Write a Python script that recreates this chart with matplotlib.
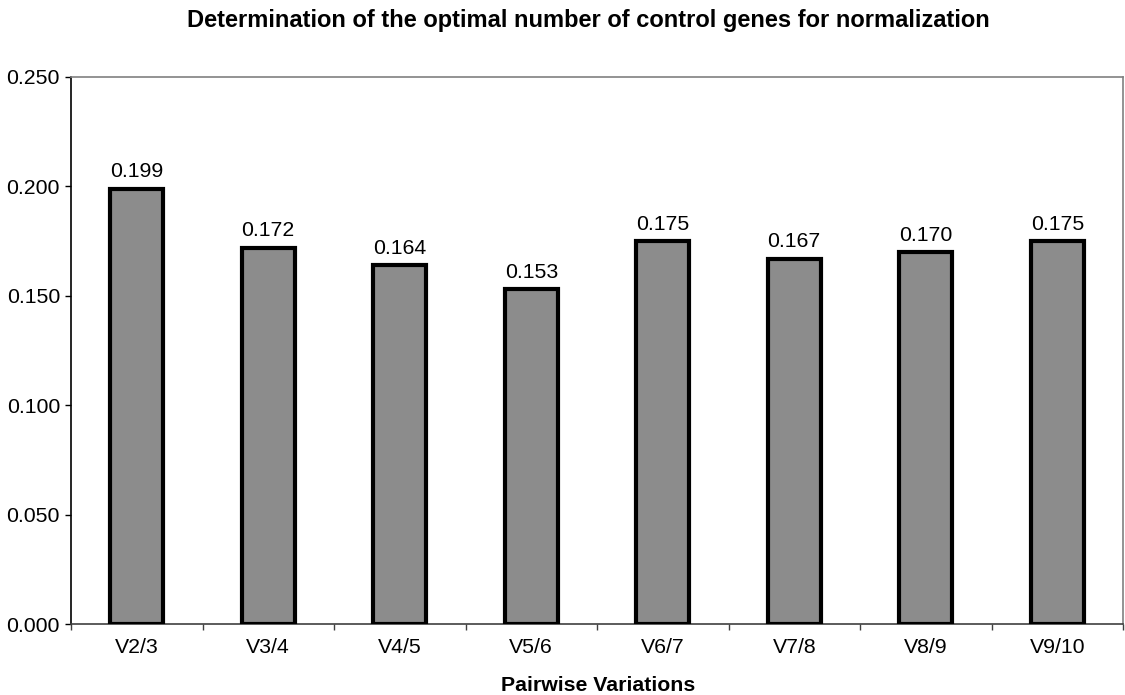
import matplotlib
matplotlib.use("Agg")
import matplotlib.pyplot as plt
import numpy as np

plt.rcParams['font.family'] = ['Liberation Sans', 'DejaVu Sans']

categories = ["V2/3", "V3/4", "V4/5", "V5/6", "V6/7", "V7/8", "V8/9", "V9/10"]
values = [0.199, 0.172, 0.164, 0.153, 0.175, 0.167, 0.170, 0.175]
yticks = [0.000, 0.050, 0.100, 0.150, 0.200, 0.250]
title = "Determination of the optimal number of control genes for normalization"
xlabel = "Pairwise Variations"

fig = plt.figure(figsize=(11.25, 6.95), dpi=100)
ax = fig.add_axes([71/1125, 71/695, (1123-71)/1125, (624-77)/695])

x = np.arange(len(categories))
ax.bar(x, values, width=0.40, color='#8c8c8c', edgecolor='black', linewidth=3, zorder=3)

for xi, v in zip(x, values):
    ax.annotate(f"{v:.3f}", (xi, v), xytext=(0, 8.3), textcoords='offset points',
                ha='center', va='baseline', fontsize=15.3, color='black')

ax.set_xlim(-0.5, len(categories) - 0.5)
ax.set_ylim(0, 0.25)
ax.set_yticks(yticks)
ax.set_yticklabels([f"{t:.3f}" for t in yticks], fontsize=15.3)
ax.set_xticks(x)
ax.set_xticklabels(categories, fontsize=15.3)
ax.set_xticks(np.arange(-0.5, len(categories)), minor=True)
ax.tick_params(axis='x', which='major', length=0, pad=10)
ax.tick_params(axis='x', which='minor', length=4, width=1, color='#404040', direction='out')
ax.tick_params(axis='y', which='major', length=4, width=1, color='black', direction='out', pad=4)

ax.spines['left'].set_color('black')
ax.spines['left'].set_linewidth(1.2)
ax.spines['bottom'].set_color('#404040')
ax.spines['bottom'].set_linewidth(1.2)
ax.spines['top'].set_color('#808080')
ax.spines['right'].set_color('#808080')
ax.spines['top'].set_linewidth(1.2)
ax.spines['right'].set_linewidth(1.2)

fig.text(588/1125, 1 - 27/695, title, ha='center', va='baseline', fontsize=17, fontweight='bold')
fig.text(598/1125, 1 - 691/695, xlabel, ha='center', va='baseline', fontsize=15.3, fontweight='bold')

fig.savefig("out.png", dpi=100)
